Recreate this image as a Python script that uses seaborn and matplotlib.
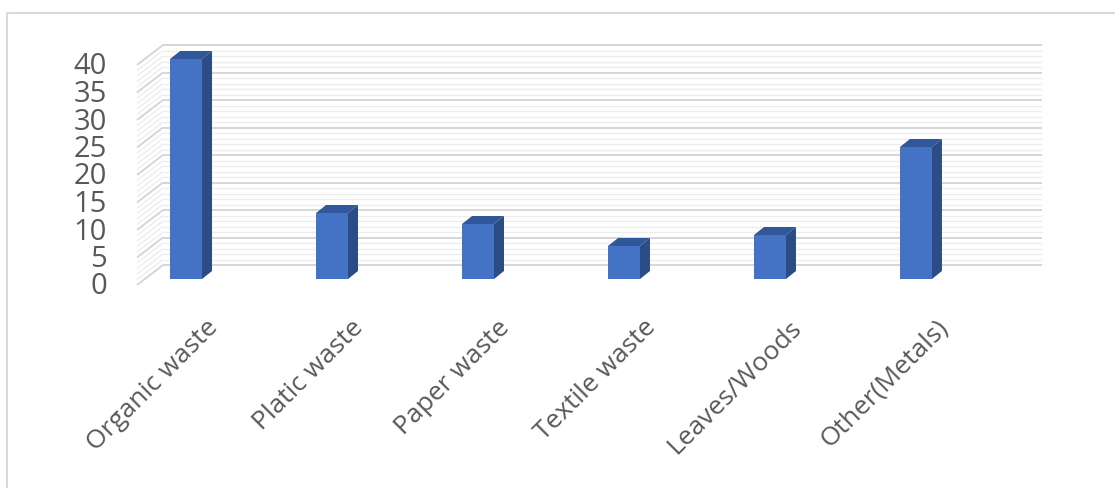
import matplotlib
matplotlib.use("Agg")
import matplotlib.pyplot as plt
import seaborn as sns
import pandas as pd
from matplotlib.patches import Polygon
from matplotlib.lines import Line2D

# ---- data ----
categories = ["Organic waste", "Platic waste", "Paper waste", "Textile waste",
              "Leaves/Woods", "Other(Metals)"]
values = [40, 12, 10, 6, 8, 24]
major_ticks = [0, 5, 10, 15, 20, 25, 30, 35, 40]
minor_ticks = [v for v in range(0, 41) if v % 5 != 0]

sns.set_theme(style="white")
plt.rcParams['font.family'] = ['Open Sans', 'DejaVu Sans']

W, H = 1115, 488
fig = plt.figure(figsize=(W / 100, H / 100), dpi=100)
fig.patch.set_facecolor("white")

ax_l, ax_r, ax_b, ax_t = 145, 1024, 279, 59
ax = fig.add_axes([ax_l / W, 1 - ax_b / H, (ax_r - ax_l) / W, (ax_b - ax_t) / H])

df = pd.DataFrame({"cat": categories, "val": values})
sns.barplot(data=df, x="cat", y="val", color="#4472C4", width=0.219, ax=ax,
            saturation=1, zorder=5, linewidth=0)
xlim = (-0.281, 5.740)
ax.set_xlim(*xlim)
ax.set_ylim(0, 40)
ax.axis("off")

sx = (ax_r - ax_l) / (xlim[1] - xlim[0])   # px per x unit
sy = (ax_b - ax_t) / 40.0                    # px per y unit

# wall offsets (depth) relative to bar plane
bdx, bdy = 18 / sx, 14 / sy
fdx, fdy = -8 / sx, -6 / sy
x0, x1 = xlim

def grid_line(v, color, lw, z):
    # back wall
    ax.plot([x0 + bdx, x1 + bdx], [v + bdy, v + bdy], color=color, lw=lw,
            clip_on=False, zorder=z, solid_capstyle="butt")
    # left side wall
    ax.plot([x0 + bdx, x0 + fdx], [v + bdy, v + fdy], color=color, lw=lw,
            clip_on=False, zorder=z, solid_capstyle="butt")

for v in minor_ticks:
    grid_line(v, "#EDEDED", 1.0, 1)
for v in major_ticks:
    grid_line(v, "#D6D6D6", 1.4, 2)

# 3D faces of bars
ddx, ddy = 10 / sx, 8 / sy
for p in ax.patches:
    x = p.get_x(); w = p.get_width(); h = p.get_height()
    side = Polygon([(x + w, 0), (x + w, h), (x + w + ddx, h + ddy), (x + w + ddx, ddy)],
                   closed=True, facecolor="#2C4C86", edgecolor="none",
                   clip_on=False, zorder=4)
    top = Polygon([(x, h), (x + w, h), (x + w + ddx, h + ddy), (x + ddx, h + ddy)],
                  closed=True, facecolor="#31579B", edgecolor="none",
                  clip_on=False, zorder=4)
    ax.add_patch(side)
    ax.add_patch(top)

# y tick labels
for v in major_ticks:
    ax.text(x0 + fdx - 30 / sx, v + fdy - 2 / sy, str(v), ha="right", va="center",
            fontsize=21, color="#595959", clip_on=False)

# x category labels
for i, c in enumerate(categories):
    ax.text(i + 28 / sx, -45 / sy, c, rotation=45, rotation_mode="anchor",
            ha="right", va="center", fontsize=19, color="#595959", clip_on=False)

# chart frame
fig.add_artist(Line2D([7 / W, 7 / W], [0, 1 - 13 / H], transform=fig.transFigure,
                      color="#D9D9D9", lw=1.5))
fig.add_artist(Line2D([7 / W, 1], [1 - 13 / H, 1 - 13 / H], transform=fig.transFigure,
                      color="#D9D9D9", lw=1.5))

fig.savefig("out.png", dpi=100, facecolor="white")
